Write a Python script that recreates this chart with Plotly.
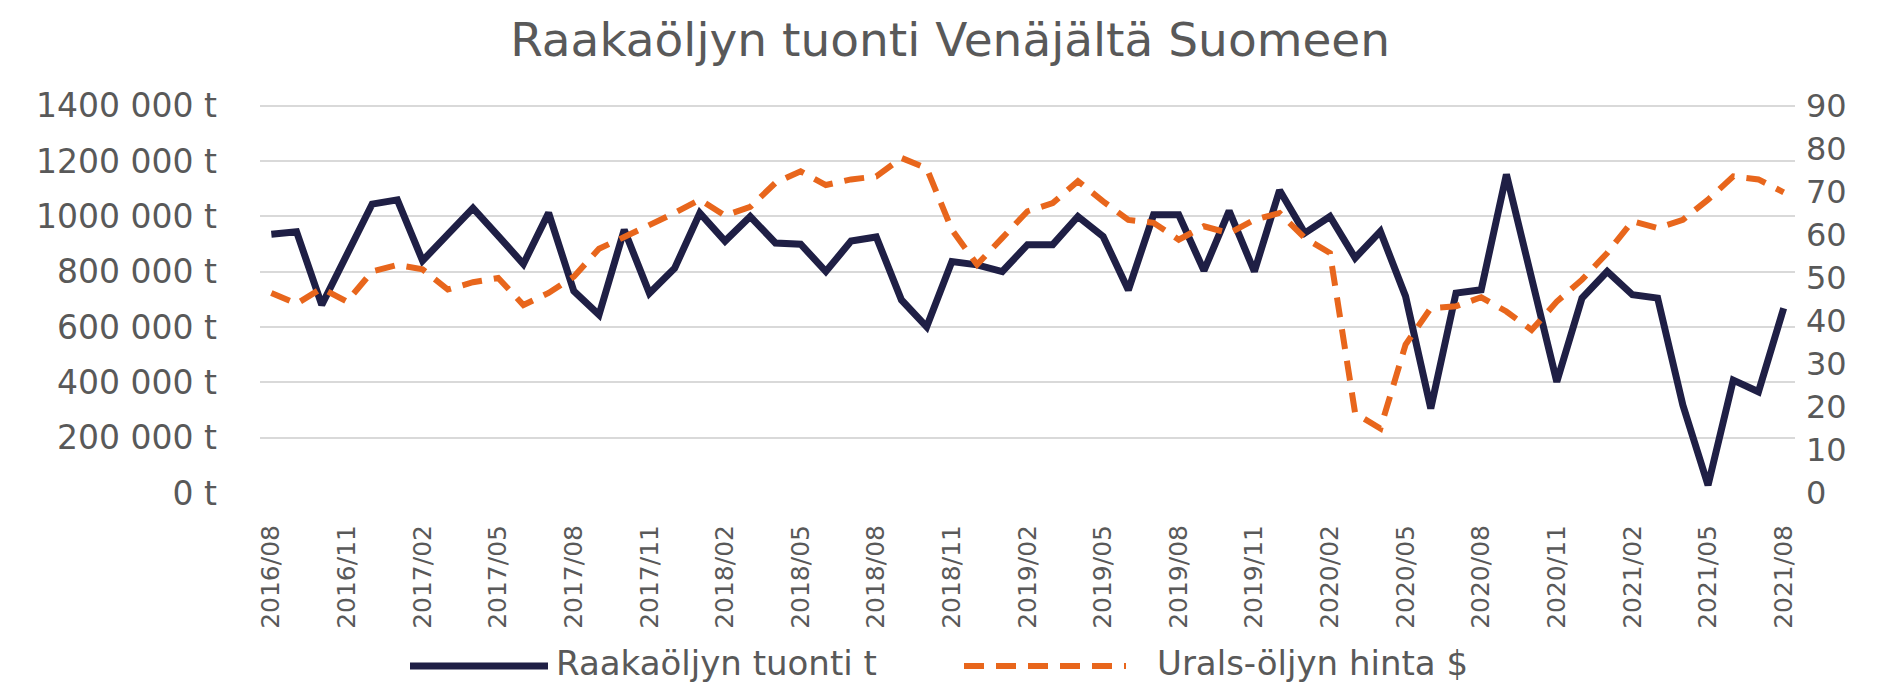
import pandas as pd
import plotly.graph_objects as go

MONTHS = pd.date_range("2016-08-01", "2021-08-01", freq="MS").strftime("%Y/%m").tolist()

# crude oil imports from Russia, tonnes (thousands)
IMPORTS_KT = [936, 945, 680, 860, 1045, 1060, 840, 935, 1030, 930,
              828, 1013, 730, 644, 952, 722, 813, 1012, 911, 1000,
              904, 900, 801, 911, 926, 698, 601, 837, 825, 801,
              898, 898, 1000, 928, 734, 1006, 1006, 804, 1020, 801,
              1095, 940, 1000, 850, 946, 711, 306, 723, 735, 1152,
              770, 402, 705, 801, 717, 705, 318, 28, 408, 366,
              668]

# Urals crude price, USD
URALS_USD = [46.5, 44.0, 47.6, 44.5, 51.5, 53.0, 52.0, 47.3, 49.0, 50.0,
             43.7, 46.5, 50.3, 56.8, 59.5, 62.2, 65.1, 68.2, 64.5, 66.5,
             72.1, 74.8, 71.6, 72.9, 73.6, 77.9, 75.5, 61.2, 53.1, 59.3,
             65.5, 67.4, 72.5, 67.8, 63.5, 62.8, 58.9, 62.0, 60.4, 63.5,
             65.1, 59.3, 55.8, 18.5, 15.0, 34.5, 43.0, 43.4, 45.5, 42.2,
             37.9, 44.5, 49.6, 55.8, 63.2, 61.6, 63.5, 68.2, 73.6, 72.9,
             69.9]

LEFT_TICKS = [0, 200000, 400000, 600000, 800000, 1000000, 1200000, 1400000]
LEFT_LABELS = ["0 t", "200 000 t", "400 000 t", "600 000 t", "800 000 t",
               "1000 000 t", "1200 000 t", "1400 000 t"]
RIGHT_TICKS = [0, 10, 20, 30, 40, 50, 60, 70, 80, 90]

SERIES_NAMES = ["Raakaöljyn tuonti t", "Urals-öljyn hinta $"]

NAVY = "#1f1f45"
ORANGE = "#e8661c"
TEXT = "#595959"
FONT = "DejaVu Sans"
DASH = "20px,12px"

# the page body has an 8px margin, so the figure is 16px smaller than the window
W, H = 1873, 675
PAD = 0.01  # headroom so the top gridline is drawn
L, R, T, B = 252, 86, 94, 190
PW, PH = W - L - R, H - T - B


def px_x(x):
    return (x - L) / PW


def px_y(y):
    return (H - B - y) / PH


imports_t = [v * 1000 for v in IMPORTS_KT]

fig = go.Figure()
fig.add_trace(go.Scatter(
    x=MONTHS, y=imports_t, name=SERIES_NAMES[0],
    mode="lines", line=dict(color=NAVY, width=7),
    yaxis="y",
))
fig.add_trace(go.Scatter(
    x=MONTHS, y=URALS_USD, name=SERIES_NAMES[1],
    mode="lines", line=dict(color=ORANGE, width=6, dash=DASH),
    yaxis="y2",
))

# legend drawn by hand so the line samples can be as long as in the original
for (x0, x1, tx), color, dash, name in zip(
        [(402, 540, 546), (956, 1118, 1147)], [NAVY, ORANGE], ["solid", DASH], SERIES_NAMES):
    fig.add_shape(type="line", xref="paper", yref="paper",
                  x0=px_x(x0), x1=px_x(x1), y0=px_y(658), y1=px_y(658),
                  line=dict(color=color, width=7 if dash == "solid" else 6, dash=dash))
    fig.add_annotation(xref="paper", yref="paper", x=px_x(tx), y=px_y(655),
                       xanchor="left", yanchor="middle", showarrow=False,
                       text=name, font=dict(size=34, color=TEXT, family=FONT))

fig.update_layout(
    width=W, height=H,
    paper_bgcolor="white", plot_bgcolor="white",
    margin=dict(l=L, r=R, t=T, b=B),
    font=dict(family=FONT, color=TEXT),
    showlegend=False,
    title=dict(
        text="Raakaöljyn tuonti Venäjältä Suomeen",
        x=0.503, xanchor="center", y=1 - 32 / H, yanchor="middle",
        font=dict(size=47, color=TEXT, family=FONT),
    ),
    xaxis=dict(
        type="category",
        range=[-0.45, len(MONTHS) - 0.55],
        tickmode="array", tickvals=MONTHS[::3], ticktext=MONTHS[::3],
        tickangle=-90, tickfont=dict(size=25, color=TEXT),
        showgrid=False, showline=False, zeroline=False,
        ticks="", ticklabelstandoff=26,
    ),
    yaxis=dict(
        range=[0, 1400000 * (1 + PAD)],
        tickmode="array", tickvals=LEFT_TICKS, ticktext=LEFT_LABELS,
        tickfont=dict(size=33, color=TEXT),
        showgrid=True, gridcolor="#d9d9d9", gridwidth=2,
        zeroline=False, showline=False, ticks="", ticklabelstandoff=42,
    ),
    yaxis2=dict(
        overlaying="y", side="right",
        range=[0, 90 * (1 + PAD)],
        tickmode="array", tickvals=RIGHT_TICKS,
        tickfont=dict(size=32, color=TEXT),
        showgrid=False, zeroline=False, showline=False, ticks="",
        ticklabelstandoff=10,
    ),
)

fig.write_html("out.html")
